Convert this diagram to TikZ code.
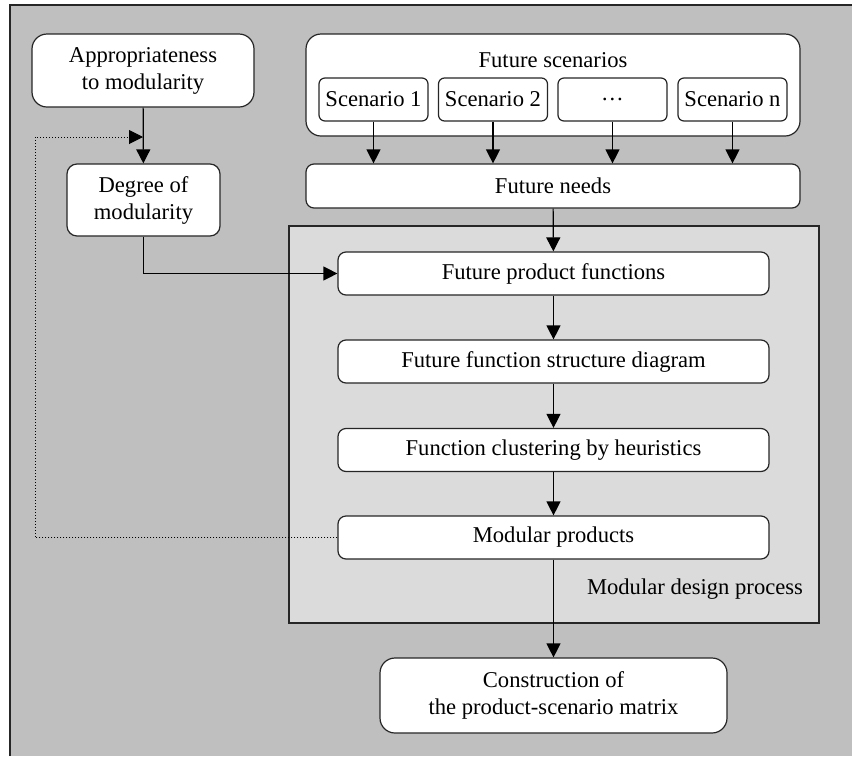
\documentclass[tikz,border=0pt]{standalone}
\usepackage{fontspec}
\setmainfont{Liberation Serif}
\usetikzlibrary{arrows.meta}

\begin{document}
\begin{tikzpicture}[x=0.5pt, y=-0.5pt,
    font=\fontsize{11.3}{13.5}\selectfont,
    box/.style={draw=black!85, fill=white, line width=0.6pt, rounded corners=4pt, align=center, inner sep=1pt},
    bigbox/.style={box, rounded corners=7.5pt},
    scenbox/.style={box, rounded corners=3pt, minimum width=54.5pt, minimum height=21.5pt},
    stepbox/.style={box, minimum width=215.5pt, minimum height=21.5pt},
    arr/.style={-{Triangle[length=7pt,width=7pt]}, line width=0.6pt},
    fb/.style={-{Triangle[length=7pt,width=7pt]}, line width=0.5pt, densely dotted}]
    \useasboundingbox (0,0) rectangle (852,756);

    % Hintergrund
    \fill[gray!50] (10,5) rectangle (852,756);
    \draw[line width=0.6pt, draw=black!85] (10,756) -- (10,5) -- (852,5);

    % Bereich des modularen Entwurfs
    \draw[fill=gray!28, line width=0.6pt, draw=black!85] (289,226) rectangle (819,623);
    \node (proclabel) at (695,589) {Modular design process};

    % linke Spalte
    \node[bigbox, minimum width=111pt, minimum height=36.5pt] (appr) at (143,70.5)
        {Appropriateness\\to modularity};
    \node[box, rounded corners=5pt, minimum width=76.5pt, minimum height=36pt] (degree) at (143.5,200)
        {Degree of\\modularity};

    % Szenarien
    \node[bigbox, minimum width=247pt, minimum height=51pt] (scen) at (553,85) {};
    \node (scentitle) at (553,60) {Future scenarios};
    \node[scenbox] (s1) at (373.5,99.5) {Scenario 1};
    \node[scenbox] (s2) at (493,99.5) {Scenario 2};
    \node[scenbox] (s3) at (612.5,99.5) {…};
    \node[scenbox] (sn) at (732.5,99.5) {Scenario n};
    \node[box, minimum width=247pt, minimum height=22pt] (needs) at (553,186) {Future needs};

    % Schritte
    \node[stepbox] (fpf) at (553.5,273.5) {Future product functions};
    \node[stepbox] (ffsd) at (553.5,361.5) {Future function structure diagram};
    \node[stepbox] (fcbh) at (553.5,450) {Function clustering by heuristics};
    \node[stepbox] (mp) at (553.5,537.5) {Modular products};
    \node[bigbox, minimum width=173.5pt, minimum height=37.5pt] (constr) at (553.5,695.5)
        {Construction of\\the product-scenario matrix};

    % Pfeile
    \draw[arr] (appr) -- (degree);
    \foreach \s in {s1,s2,s3,sn}
        \draw[arr] (\s.south) -- (\s.south |- needs.north);
    \draw[arr] (needs) -- (fpf);
    \draw[arr] (degree.south) |- (fpf.west);
    \draw[arr] (fpf) -- (ffsd);
    \draw[arr] (ffsd) -- (fcbh);
    \draw[arr] (fcbh) -- (mp);
    \draw[arr] (mp) -- (constr);

    % Rueckkopplung
    \coordinate (loop) at (143,137);
    \coordinate (fbcorner) at (35,137);
    \draw[fb] (mp.west) -| (fbcorner) -- (loop);
\end{tikzpicture}
\end{document}
